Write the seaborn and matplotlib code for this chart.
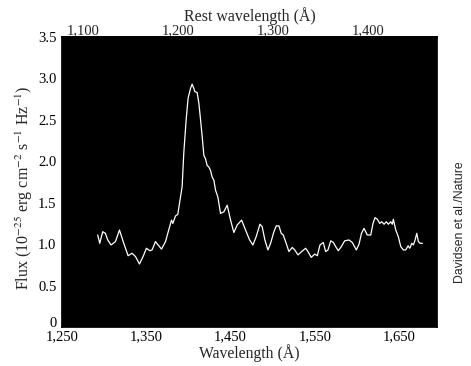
import numpy as np
import pandas as pd
import matplotlib
matplotlib.use("Agg")
import matplotlib.pyplot as plt
import seaborn as sns
from matplotlib.ticker import FuncFormatter

# Observed wavelength (Å) and flux (1e-25 erg cm^-2 s^-1 Hz^-1)
wavelength = [1292.4, 1294.8, 1298.3, 1301.5, 1304.3, 1308.2, 1313.4, 1318.2, 1323.3, 1328.4,
              1333.1, 1337.2, 1341.9, 1346.2, 1350.2, 1354.2, 1356.9, 1360.9, 1364.0, 1368.1,
              1372.8, 1375.5, 1379.9, 1381.5, 1384.7, 1387.4, 1390.6, 1392.5, 1394.5, 1397.3,
              1399.6, 1402.5, 1404.4, 1406.4, 1407.6, 1410.3, 1412.4, 1414.4, 1416.3, 1418.3,
              1420.3, 1422.2, 1424.2, 1426.2, 1428.1, 1430.2, 1432.2, 1434.9, 1438.1, 1442.0,
              1446.0, 1450.0, 1453.9, 1457.8, 1463.1, 1467.8, 1472.6, 1476.5, 1480.4, 1484.8,
              1487.5, 1490.7, 1494.3, 1497.5, 1501.4, 1504.2, 1507.4, 1510.1, 1512.5, 1515.3,
              1519.2, 1523.2, 1526.1, 1530.0, 1534.3, 1539.1, 1541.8, 1545.7, 1549.8, 1552.9,
              1556.1, 1560.0, 1562.8, 1565.6, 1568.8, 1571.9, 1574.7, 1577.8, 1581.4, 1585.4,
              1590.5, 1594.4, 1599.2, 1602.4, 1605.3, 1608.3, 1612.2, 1616.3, 1619.0, 1621.4,
              1624.1, 1627.0, 1629.3, 1632.1, 1634.8, 1637.2, 1640.0, 1641.9, 1643.1, 1646.0,
              1649.0, 1651.9, 1655.0, 1657.8, 1660.6, 1662.6, 1665.0, 1666.9, 1668.9, 1670.9,
              1672.8, 1674.8, 1677.6]
flux = [1.11, 1.01, 1.15, 1.13, 1.05, 0.99, 1.03, 1.17, 1.01, 0.86,
        0.89, 0.85, 0.76, 0.85, 0.95, 0.92, 0.93, 1.03, 0.99, 0.94,
        1.03, 1.13, 1.29, 1.25, 1.34, 1.36, 1.57, 1.69, 2.10, 2.50,
        2.76, 2.88, 2.93, 2.88, 2.84, 2.83, 2.70, 2.50, 2.30, 2.07,
        2.03, 1.95, 1.93, 1.89, 1.81, 1.77, 1.65, 1.57, 1.37, 1.39,
        1.47, 1.29, 1.14, 1.23, 1.29, 1.17, 1.05, 0.99, 1.09, 1.24,
        1.21, 1.05, 0.93, 1.01, 1.15, 1.22, 1.22, 1.13, 1.11, 1.03,
        0.91, 0.96, 0.93, 0.87, 0.91, 0.95, 0.91, 0.84, 0.88, 0.86,
        0.99, 1.02, 0.91, 0.93, 1.04, 1.02, 0.97, 0.92, 0.97, 1.04,
        1.05, 1.02, 0.93, 1.00, 1.13, 1.19, 1.11, 1.11, 1.25, 1.32,
        1.30, 1.25, 1.27, 1.24, 1.27, 1.24, 1.27, 1.24, 1.30, 1.17,
        1.09, 0.97, 0.93, 0.93, 0.98, 0.95, 1.01, 0.99, 1.05, 1.13,
        1.03, 1.01, 1.01]

x_ticks = [1250, 1350, 1450, 1550, 1650]
y_ticks = [0, 0.5, 1.0, 1.5, 2.0, 2.5, 3.0, 3.5]
rest_ticks = [1100, 1200, 1300, 1400]

df = pd.DataFrame({"wavelength": wavelength, "flux": flux})

sns.set_theme(style="white")
plt.rcParams["font.family"] = ["Liberation Serif", "DejaVu Serif"]
plt.rcParams["mathtext.fontset"] = "stix"

fig = plt.figure(figsize=(4.71, 3.66), dpi=100)
ax = fig.add_axes([0.1316, 0.1066, 0.7964, 0.7924])
ax.set_facecolor("black")

sns.lineplot(data=df, x="wavelength", y="flux", ax=ax, color="white", linewidth=0.9,
             sort=False, estimator=None)

ax.set_xlim(1250, 1695)
ax.set_ylim(0, 3.5)
ax.set_xticks(x_ticks)
ax.set_yticks(y_ticks)
ax.xaxis.set_major_formatter(FuncFormatter(lambda v, p: f"{int(v):,}"))
ax.yaxis.set_major_formatter(FuncFormatter(lambda v, p: "0" if v == 0 else f"{v:.1f}"))
ax.tick_params(axis="both", length=0, labelsize=10.5, colors="black")
ax.tick_params(axis="x", pad=2)
ax.tick_params(axis="y", pad=4)
for s in ax.spines.values():
    s.set_color("black")
# the "0" label sits on the baseline of the axes, as in the reference
ax.get_yticklabels()[0].set_va("baseline")

ax.set_xlabel("Wavelength (Å)", fontsize=11.3, labelpad=1)
ax.set_ylabel(r"Flux (10$^{-25}$ erg cm$^{-2}$ s$^{-1}$ Hz$^{-1}$)", fontsize=11.5)
ax.yaxis.set_label_coords(-0.072, 0.48)

def fwd(o):
    return 1100 + (np.asarray(o) - 1274.6) * 0.8863

def inv(r):
    return 1274.6 + (np.asarray(r) - 1100) / 0.8863

sec = ax.secondary_xaxis("top", functions=(fwd, inv))
sec.set_xticks(rest_ticks)
sec.xaxis.set_major_formatter(FuncFormatter(lambda v, p: f"{int(round(v)):,}"))
sec.tick_params(length=0, labelsize=10.5, pad=0)
sec.set_xlabel("Rest wavelength (Å)", fontsize=11.4, labelpad=2)
sec.spines["top"].set_color("black")

fig.text(0.977, 0.394, "Davidsen et al./Nature", rotation=90, ha="center", va="center",
         fontsize=8.8, family=["Liberation Sans", "DejaVu Sans"])

fig.savefig("out.png", dpi=100)
